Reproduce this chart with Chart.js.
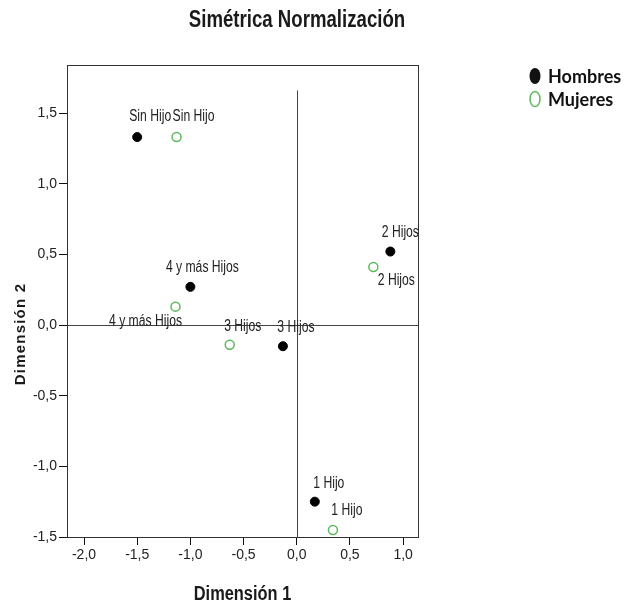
<!DOCTYPE html>
<html>
<head>
<meta charset="utf-8">
<script src="https://cdn.jsdelivr.net/npm/chart.js@4.4.1/dist/chart.umd.min.js"></script>
<style>
  body { margin: 0; background: #fff; }
  #wrap { width: 632px; height: 600px; }
</style>
</head>
<body>
<div id="wrap"><canvas id="myChart" width="632" height="600"></canvas></div>
<script>
// categories and coordinates
const categories = ['Sin Hijo', '1 Hijo', '2 Hijos', '3 Hijos', '4 y más Hijos'];
const hombresDim1 = [-1.50, 0.17, 0.88, -0.13, -1.00];
const hombresDim2 = [1.33, -1.25, 0.52, -0.15, 0.27];
const mujeresDim1 = [-1.13, 0.34, 0.72, -0.63, -1.14];
const mujeresDim2 = [1.33, -1.45, 0.41, -0.14, 0.13];
const seriesNames = ['Hombres', 'Mujeres'];
const xTicks = [-2.0, -1.5, -1.0, -0.5, 0.0, 0.5, 1.0];
const yTicks = [-1.5, -1.0, -0.5, 0.0, 0.5, 1.0, 1.5];
const xRange = [-2.16, 1.14];
const yRange = [-1.5, 1.84];
const vLineRange = [-1.5, 1.66];

// label offsets in px, per series, same order as categories
const labelOffsets = [
    [[13, -20], [14, -18], [10, -19], [13, -19], [12, -19]],
    [[17, -20], [14, -19], [23, 14], [13, -18], [-30, 15]]
];

const sans = '"Liberation Sans", Arial, sans-serif';
const green = '#5cb85c';

const toPoints = (xs, ys) => xs.map((x, i) => ({ x: x, y: ys[i] }));
const fmt = v => v.toFixed(1).replace('.', ',');

// no narrow font installed, so squeeze Liberation Sans sideways
function narrowText(ctx, text, x, y, font, sx) {
    ctx.save();
    ctx.font = font;
    ctx.translate(x, y);
    ctx.scale(sx, 1);
    ctx.fillText(text, 0, 0);
    ctx.restore();
}

const extras = {
    id: 'extras',
    beforeDatasetsDraw(chart) {
        const { ctx, chartArea: a, scales: { x, y } } = chart;
        ctx.save();
        ctx.strokeStyle = '#444';
        ctx.lineWidth = 1;
        // reference lines at 0
        const y0 = Math.round(y.getPixelForValue(0)) + 0.5;
        const x0 = Math.round(x.getPixelForValue(0)) + 0.5;
        ctx.beginPath();
        ctx.moveTo(a.left, y0);
        ctx.lineTo(a.right, y0);
        ctx.moveTo(x0, y.getPixelForValue(vLineRange[0]));
        ctx.lineTo(x0, y.getPixelForValue(vLineRange[1]));
        ctx.stroke();
        // frame
        ctx.strokeStyle = '#333';
        ctx.strokeRect(Math.round(a.left) + 0.5, Math.round(a.top) + 0.5,
            Math.round(a.right - a.left), Math.round(a.bottom - a.top));
        ctx.restore();
    },
    afterDraw(chart) {
        const { ctx, chartArea: a } = chart;
        ctx.save();
        ctx.fillStyle = '#222';
        ctx.textAlign = 'center';
        ctx.textBaseline = 'middle';

        // point labels
        chart.data.datasets.forEach((ds, di) => {
            const meta = chart.getDatasetMeta(di);
            meta.data.forEach((el, i) => {
                const off = labelOffsets[di][i];
                narrowText(ctx, categories[i], el.x + off[0], el.y + off[1], '16px ' + sans, 0.76);
            });
        });

        // title
        ctx.fillStyle = '#1a1a1a';
        narrowText(ctx, 'Simétrica Normalización', 297, 21, 'bold 23px ' + sans, 0.81);

        // axis titles
        narrowText(ctx, 'Dimensión 1', (a.left + a.right) / 2, 594, 'bold 20px ' + sans, 0.82);
        ctx.save();
        ctx.translate(21, 334);
        ctx.rotate(-Math.PI / 2);
        ctx.font = 'bold 15px ' + sans;
        ctx.letterSpacing = '1.2px';
        ctx.fillText('Dimensión 2', 0, 0);
        ctx.restore();

        // legend
        ctx.textAlign = 'left';
        ctx.font = 'bold 18px Lato, sans-serif';
        ctx.fillStyle = '#111';
        ctx.beginPath();
        ctx.ellipse(535, 76, 5.5, 8, 0, 0, Math.PI * 2);
        ctx.fill();
        ctx.fillText(seriesNames[0], 548, 77);
        ctx.strokeStyle = green;
        ctx.lineWidth = 1.5;
        ctx.beginPath();
        ctx.ellipse(535, 99, 5, 7.5, 0, 0, Math.PI * 2);
        ctx.stroke();
        ctx.fillText(seriesNames[1], 548, 100);
        ctx.restore();
    }
};

const axisCommon = {
    grid: { drawOnChartArea: false, drawTicks: true, tickLength: 8, color: '#111', lineWidth: 1 },
    border: { display: true, color: '#333', width: 1 },
    ticks: { color: '#222', font: { family: sans, size: 14 }, callback: v => fmt(v) }
};

new Chart(document.getElementById('myChart').getContext('2d'), {
    type: 'scatter',
    data: {
        datasets: [
            {
                label: seriesNames[0],
                data: toPoints(hombresDim1, hombresDim2),
                backgroundColor: '#000',
                borderColor: '#000',
                pointRadius: 4.5,
                pointBorderWidth: 1
            },
            {
                label: seriesNames[1],
                data: toPoints(mujeresDim1, mujeresDim2),
                backgroundColor: 'rgba(0,0,0,0)',
                borderColor: green,
                pointRadius: 4.5,
                pointBorderWidth: 1.5
            }
        ]
    },
    options: {
        responsive: false,
        animation: false,
        layout: { padding: { top: 65, right: 214, left: 0, bottom: 0 } },
        plugins: { legend: { display: false }, tooltip: { enabled: false } },
        scales: {
            x: {
                ...axisCommon,
                min: xRange[0], max: xRange[1],
                ticks: { ...axisCommon.ticks, padding: 2, maxRotation: 0 },
                afterBuildTicks: s => { s.ticks = xTicks.map(v => ({ value: v })); },
                afterFit: s => { s.height = 63; }
            },
            y: {
                ...axisCommon,
                min: yRange[0], max: yRange[1],
                ticks: { ...axisCommon.ticks, padding: 2 },
                afterBuildTicks: s => { s.ticks = yTicks.map(v => ({ value: v })); },
                afterFit: s => { s.width = 67; }
            }
        }
    },
    plugins: [extras]
});
</script>
</body>
</html>
